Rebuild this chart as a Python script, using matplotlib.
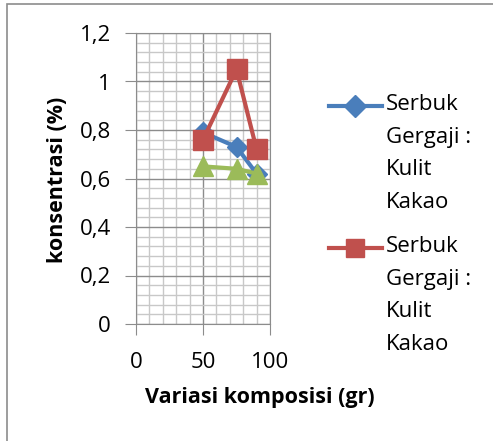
import numpy as np
import matplotlib.pyplot as plt
from matplotlib.lines import Line2D
from matplotlib.patches import Rectangle
from matplotlib.ticker import MultipleLocator, FuncFormatter

# data
komposisi = [50, 75, 90]
seri_biru = [0.79, 0.73, 0.62]
seri_merah = [0.76, 1.05, 0.72]
seri_hijau = [0.65, 0.64, 0.62]
label_seri = "Serbuk\nGergaji :\nKulit\nKakao"

plt.rcParams['font.family'] = ['Open Sans', 'DejaVu Sans']

W, H = 493, 441
fig = plt.figure(figsize=(W / 100, H / 100), dpi=100)
ax = fig.add_axes([136 / W, 1 - 324 / H, (270 - 136) / W, (324 - 33) / H])

blue = "#4A7EBB"
red = "#C0504D"
green = "#9BBB59"

ax.plot(komposisi, seri_biru, color=blue, lw=3, marker="D", ms=10, zorder=3)
ax.plot(komposisi, seri_merah, color=red, lw=3, marker="s", ms=14, zorder=4)
ax.plot(komposisi, seri_hijau, color=green, lw=3, marker="^", ms=14, zorder=3)

ax.set_xlim(0, 100)
ax.set_ylim(0, 1.2)
ax.xaxis.set_major_locator(MultipleLocator(50))
ax.xaxis.set_minor_locator(MultipleLocator(10))
ax.yaxis.set_major_locator(MultipleLocator(0.2))
ax.yaxis.set_minor_locator(MultipleLocator(0.04))
ax.yaxis.set_major_formatter(FuncFormatter(lambda v, p: ("%g" % round(v, 1)).replace(".", ",")))

ax.grid(which="minor", color="#C8C8C8", lw=1)
ax.grid(which="major", color="#8C8C8C", lw=1)
ax.set_axisbelow(True)
for s in ax.spines.values():
    s.set_color("#8C8C8C")
ax.tick_params(which="major", length=8, color="#8C8C8C", labelsize=16, pad=10)
ax.tick_params(which="minor", length=0)
ax.tick_params(axis="x", pad=12)

ax.set_xlabel("Variasi komposisi (gr)", fontsize=15.5, fontweight="bold")
ax.set_ylabel("konsentrasi (%)", fontsize=15.5, fontweight="bold")
ax.xaxis.set_label_coords((260 - 136) / 134, (324 - 398) / 291)
ax.yaxis.set_label_coords((58 - 136) / 134, (324 - 180) / 291)
ax.xaxis.label.set_va("center")
ax.yaxis.label.set_va("center")

# legend drawn by hand so the marker sits on the first text line (Excel style)
for col, mk, ms, y in [(blue, "D", 11, 106), (red, "s", 13, 248)]:
    yf = 1 - y / H
    fig.add_artist(Line2D([329 / W, 382 / W], [yf, yf], transform=fig.transFigure, color=col, lw=3))
    fig.add_artist(Line2D([355 / W], [yf], transform=fig.transFigure, color=col, marker=mk, ms=ms))
    fig.text(386 / W, yf + 12 / H, label_seri, fontsize=16, va="top", ha="left", linespacing=1.73)

fig.add_artist(Rectangle((7 / W, -0.1), 1.2, 1 - 4 / H + 0.1, transform=fig.transFigure,
                         fill=False, edgecolor="#8C8C8C", lw=1.2))

fig.savefig("out.png", dpi=100)
